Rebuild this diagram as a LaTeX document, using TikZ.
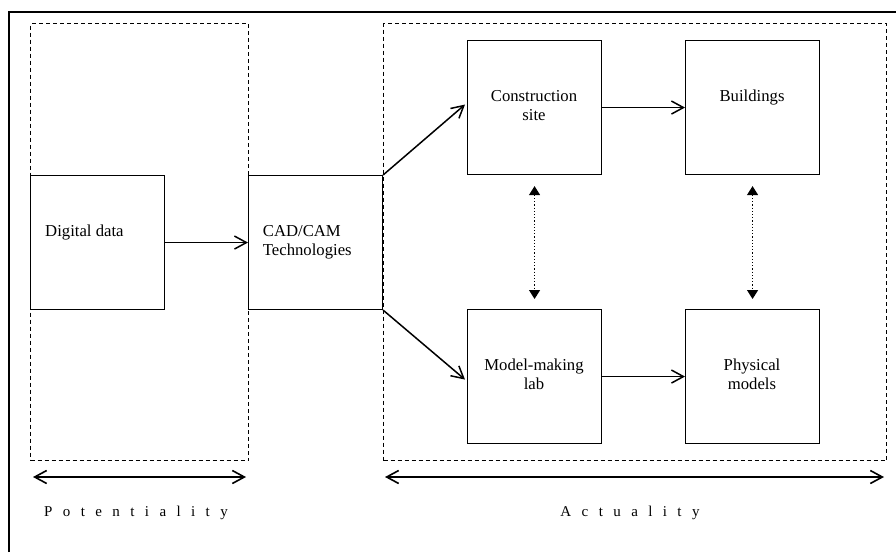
\documentclass[tikz,border=0pt]{standalone}
\usepackage{fontspec}
\setmainfont{Liberation Serif}
\usetikzlibrary{arrows.meta}
\newcommand{\widespaced}[1]{{\spaceskip=10.4pt\relax #1}}
\begin{document}
\begin{tikzpicture}[x=1pt,y=-1pt,
  box/.style={draw, line width=1.1pt, minimum width=134pt, minimum height=134pt, inner sep=0pt, anchor=north west},
  region/.style={draw, line width=1.1pt, dash pattern=on 4pt off 3pt, inner sep=0pt, anchor=north west},
  txt/.style={font=\fontsize{16.7}{19.5}\selectfont, inner sep=0pt},
  lbl/.style={font=\fontsize{15}{18}\selectfont, inner sep=0pt, anchor=base},
  arr/.style={line width=1.5pt, -{Straight Barb[length=12pt,width=13pt]}},
  darr/.style={line width=1.6pt, {Straight Barb[length=12pt,width=13pt]}-{Straight Barb[length=12pt,width=13pt]}},
  dotarr/.style={line width=1.2pt, dash pattern=on 1.2pt off 2pt, {Triangle[length=9pt,width=11pt]}-{Triangle[length=9pt,width=11pt]}}
]
\useasboundingbox (0,0) rectangle (896,552);
% outer frame (cropped)
\draw[line width=1.8pt] (9,552) -- (9,12) -- (896,12);

% dashed regions
\node[region, minimum width=218pt, minimum height=437pt] (pot) at (30,23) {};
\node[region, minimum width=503pt, minimum height=437pt] (act) at (383,23) {};

% boxes
\node[box] (dd) at (30,175) {};
\node[box] (cad) at (248,175) {};
\node[box] (cs) at (467,40) {};
\node[box] (bd) at (685,40) {};
\node[box] (ml) at (467,309) {};
\node[box] (pm) at (685,309) {};

% texts
\node[txt, anchor=base west] (ddt) at (45,236) {Digital data};
\node[txt, anchor=base west] (cadt1) at (262.7,236) {CAD/CAM};
\node[txt, anchor=base west] (cadt2) at (262.7,255.7) {Technologies};
\node[txt, anchor=base] (cst1) at (534,101.7) {Construction};
\node[txt, anchor=base] (cst2) at (534,120.7) {site};
\node[txt, anchor=base] (bdt) at (752,101.7) {Buildings};
\node[txt, anchor=base] (mlt1) at (534,370) {Model-making};
\node[txt, anchor=base] (mlt2) at (534,389.3) {lab};
\node[txt, anchor=base] (pmt1) at (752,370) {Physical};
\node[txt, anchor=base] (pmt2) at (752,389.3) {models};

% connectors
\draw[arr] (dd.east) -- (cad.west);
\draw[arr] (cad.north east) -- ([shift={(-2pt,3pt)}]cs.west);
\draw[arr] (cad.south east) -- ([shift={(-2pt,-3pt)}]ml.west);
\draw[arr] (cs.east) -- (bd.west);
\draw[arr] (ml.east) -- (pm.west);
\draw[dotarr, shorten <=11pt, shorten >=10pt] (cs.south) -- (ml.north);
\draw[dotarr, shorten <=11pt, shorten >=10pt] (bd.south) -- (pm.north);

% extent arrows
\coordinate (p1) at (33,477);
\coordinate (p2) at (246,477);
\coordinate (a1) at (385,477);
\coordinate (a2) at (884,477);
\draw[darr] (p1) -- (p2);
\draw[darr] (a1) -- (a2);
\node[lbl] (potl) at (136,516.5) {\widespaced{P o t e n t i a l i t y}};
\node[lbl] (actl) at (630,516.5) {\widespaced{A c t u a l i t y}};
\end{tikzpicture}
\end{document}
